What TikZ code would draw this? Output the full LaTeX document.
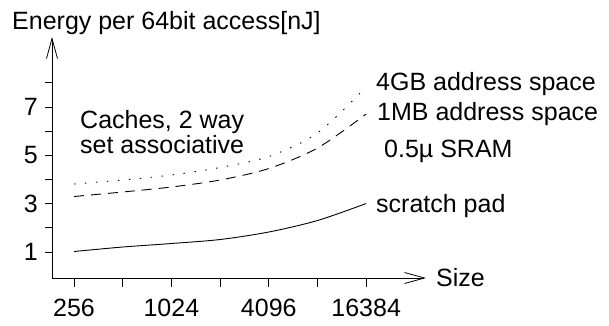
\documentclass[tikz,border=0pt]{standalone}
\usepackage{fontspec}
\setmainfont{Liberation Sans}
\usetikzlibrary{arrows.meta}
\begin{document}
\begin{tikzpicture}[x=1pt,y=-1pt,
  lbl/.style={inner sep=0pt, font=\fontsize{25}{21}\selectfont},
  axisline/.style={line width=0.9pt, -{Straight Barb[length=20pt,width=11pt,line width=0.8pt]}},
  tickmark/.style={line width=0.9pt},
  curve/.style={line width=0.9pt, smooth, tension=0.5},
]
\useasboundingbox (0,0) rectangle (609,325);

% axes
\coordinate (O) at (52,278);
\coordinate (ytip) at (52,37);
\coordinate (xtip) at (426,278);
\draw[axisline] (O) -- (ytip);
\draw[axisline] (O) -- (xtip);

% energy ticks, one per nJ
\foreach \v in {1,...,8}
  \draw[tickmark] (45,{276.1-24.15*\v}) -- (52,{276.1-24.15*\v});
\foreach \v in {1,3,5,7}
  \node[lbl, anchor=east] (ylab\v) at (38,{276.1-24.15*\v}) {\v};

% size ticks, one per factor of two
\foreach \k in {0,...,6}
  \draw[tickmark] ({74+48.7*\k},278) -- ({74+48.7*\k},287);
\node[lbl] (x256)   at (74,307.5)    {256};
\node[lbl] (x1024)  at (171.4,307.5) {1024};
\node[lbl] (x4096)  at (268.8,307.5) {4096};
\node[lbl] (x16384) at (366.2,307.5) {16384};

% axis titles
\node[lbl, anchor=base west] (ytitle) at (12,29) {Energy per 64bit access[nJ]};
\node[lbl, anchor=base west] (xtitle) at (436,286) {Size};

% curves
\draw[curve, dash pattern=on 1.5pt off 9.5pt] plot coordinates
  {(74,184) (122.7,180) (171.4,175) (220.1,167.5) (268.8,156.5) (317.5,133) (366.2,87)};
\draw[curve, dash pattern=on 10pt off 7pt] plot coordinates
  {(74,196.5) (122.7,192) (171.4,187) (220.1,180) (268.8,168.5) (317.5,148) (366.2,114)};
\draw[curve] plot coordinates
  {(74,251.5) (122.7,247) (171.4,243.5) (220.1,239.5) (268.8,232) (317.5,220.5) (366.2,203.5)};

% curve labels
\node[lbl, anchor=base west] (gb4)   at (376,90)  {4GB address space};
\node[lbl, anchor=base west] (mb1)   at (377,120) {1MB address space};
\node[lbl, anchor=base west] (sram)  at (384,157) {0.5µ SRAM};
\node[lbl, anchor=base west] (spad)  at (376,212) {scratch pad};
\node[lbl, anchor=north west, align=left] (caches) at (80,110.5)
  {Caches, 2 way\\set associative};
\end{tikzpicture}
\end{document}
